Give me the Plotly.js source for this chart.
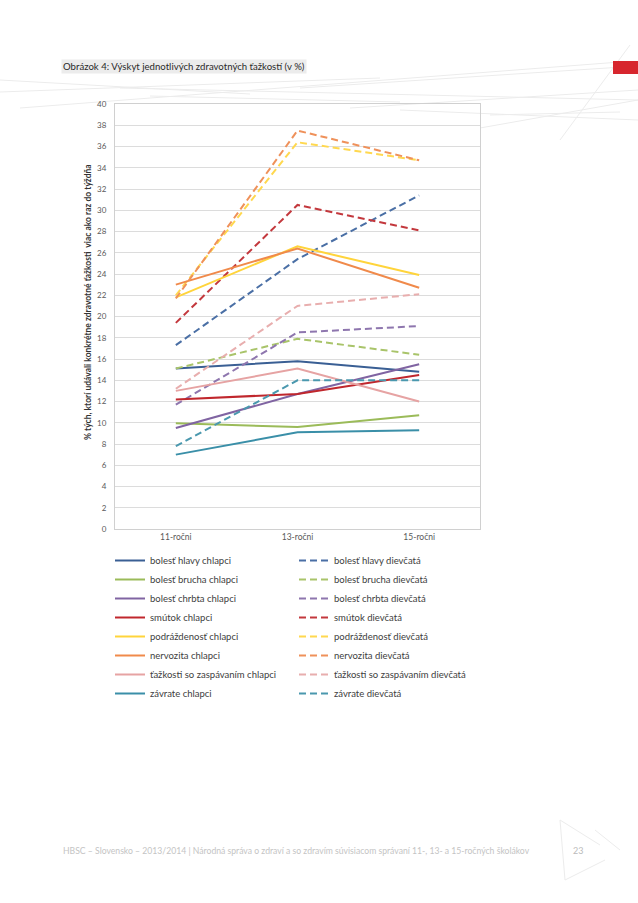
<!DOCTYPE html>
<html>
<head>
<meta charset="utf-8">
<script src="https://cdn.plot.ly/plotly-3.0.1.min.js"></script>
<style>html,body{margin:0;padding:0;background:#fff;}#chart{width:638px;height:903px;}</style>
</head>
<body>
<div id="chart"></div>
<script>
// ---- data ----
var ages = ['11-ročni', '13-ročni', '15-ročni'];
var yTicks = [0, 2, 4, 6, 8, 10, 12, 14, 16, 18, 20, 22, 24, 26, 28, 30, 32, 34, 36, 38, 40];

var problems = ['bolesť hlavy', 'bolesť brucha', 'bolesť chrbta', 'smútok', 'podráždenosť', 'nervozita', 'ťažkosti so zaspávaním', 'závrate'];

var hlavaChlapci = [15.1, 15.8, 14.8];
var bruchoChlapci = [9.95, 9.6, 10.7];
var chrbatChlapci = [9.5, 12.7, 15.5];
var smutokChlapci = [12.2, 12.7, 14.5];
var podrazdenostChlapci = [21.8, 26.6, 23.9];
var nervozitaChlapci = [23.0, 26.4, 22.7];
var zaspavanieChlapci = [13.0, 15.1, 12.0];
var zavrateChlapci = [7.0, 9.1, 9.3];

var hlavaDievcata = [17.3, 25.4, 31.4];
var bruchoDievcata = [15.1, 17.9, 16.4];
var chrbatDievcata = [11.7, 18.5, 19.1];
var smutokDievcata = [19.4, 30.5, 28.1];
var podrazdenostDievcata = [22.0, 36.4, 34.7];
var nervozitaDievcata = [21.7, 37.5, 34.7];
var zaspavanieDievcata = [13.2, 21.0, 22.1];
var zavrateDievcata = [7.8, 14.0, 14.0];

var boys = [hlavaChlapci, bruchoChlapci, chrbatChlapci, smutokChlapci, podrazdenostChlapci, nervozitaChlapci, zaspavanieChlapci, zavrateChlapci];
var girls = [hlavaDievcata, bruchoDievcata, chrbatDievcata, smutokDievcata, podrazdenostDievcata, nervozitaDievcata, zaspavanieDievcata, zavrateDievcata];

// ---- styles ----
var colors = ['#3A5F94', '#9BBB59', '#8064A2', '#C0272D', '#FFD43B', '#F08A4B', '#E6A3A3', '#3A8FA8'];
var girlColors = ['#4A6FA5', '#A9C46A', '#8E76AE', '#C3383D', '#FFD84F', '#EF915A', '#E8AEAE', '#4A98AE'];

var FONT = 'Lato, "Open Sans", sans-serif';
var traces = [];
for (var i = 0; i < problems.length; i++) {
  traces.push({
    x: ages, y: boys[i], type: 'scatter', mode: 'lines',
    name: problems[i] + ' chlapci',
    line: {color: colors[i], width: 2}
  });
  traces.push({
    x: ages, y: girls[i], type: 'scatter', mode: 'lines',
    name: problems[i] + ' dievčatá',
    line: {color: girlColors[i], width: 2, dash: '7px,4px'}
  });
}

// plot area in page pixels
var L = 115, R = 480, T = 104, B = 529, W = 638, H = 903;
function px(x) { return (x - L) / (R - L); }
function py(y) { return (B - y) / (B - T); }
function deco(x0, y0, x1, y1, c) {
  return {type: 'line', xref: 'paper', yref: 'paper', x0: px(x0), y0: py(y0), x1: px(x1), y1: py(y1),
          line: {color: c || '#ececec', width: 1}, layer: 'below'};
}

var shapes = [
  deco(0, 92, 380, 78), deco(20, 108, 620, 62), deco(150, 96, 400, 102), deco(300, 88, 638, 66),
  deco(350, 108, 638, 90), deco(120, 88, 638, 100), deco(400, 110, 638, 120), deco(480, 128, 638, 100),
  deco(560, 140, 630, 45), deco(490, 115, 620, 112), deco(0, 80, 250, 94),
  deco(560, 820, 600, 845), deco(560, 820, 565, 880), deco(565, 880, 605, 860), deco(595, 830, 620, 850),
  {type: 'rect', xref: 'paper', yref: 'paper', x0: px(613), x1: px(640), y0: py(61), y1: py(74),
   fillcolor: '#D7262E', line: {width: 0}}
];

var annotations = [
  {text: 'Obrázok 4: Výskyt jednotlivých zdravotných ťažkostí (v %)', xref: 'paper', yref: 'paper',
   x: px(61), y: py(67), xanchor: 'left', yanchor: 'middle', showarrow: false,
   font: {family: FONT, size: 9.6, color: '#2a2a2a'}, bgcolor: '#ececec', borderpad: 1},
  {text: '<b>% tých, ktorí udávali konkrétne zdravotné ťažkosti  viac ako raz do týždňa</b>', xref: 'paper', yref: 'paper',
   x: px(88), y: py(302), xanchor: 'center', yanchor: 'middle', textangle: -90, showarrow: false,
   font: {family: FONT, size: 8.5, color: '#333'}},
  {text: 'HBSC – Slovensko – 2013/2014 | Národná správa o zdraví a so zdravím súvisiacom správaní 11-, 13- a 15-ročných školákov',
   xref: 'paper', yref: 'paper', x: px(61), y: py(850), xanchor: 'left', yanchor: 'middle', showarrow: false,
   font: {family: FONT, size: 8.65, color: '#c4c4c4'}},
  {text: '23', xref: 'paper', yref: 'paper', x: px(578), y: py(850), xanchor: 'center', yanchor: 'middle', showarrow: false,
   font: {family: FONT, size: 9, color: '#bbbbbb'}}
];

var layout = {
  width: W, height: H,
  margin: {l: L, r: W - R, t: T, b: H - B},
  paper_bgcolor: '#fff', plot_bgcolor: '#fff',
  font: {family: FONT, size: 8, color: '#595959'},
  showlegend: true,
  legend: {
    orientation: 'h', x: px(110), y: py(546), xanchor: 'left', yanchor: 'top',
    entrywidth: 139, entrywidthmode: 'pixels', traceorder: 'normal',
    font: {family: FONT, size: 9.5, color: '#404040'}, bgcolor: 'rgba(0,0,0,0)'
  },
  xaxis: {
    type: 'category', categoryorder: 'array', categoryarray: ages, range: [-0.5, 2.5],
    showgrid: false, showline: true, linecolor: '#d0d0d0', linewidth: 1, mirror: true,
    ticks: '', tickfont: {family: FONT, size: 8.5, color: '#595959'}, fixedrange: true, zeroline: false
  },
  yaxis: {
    range: [0, 40], tickvals: yTicks, ticktext: yTicks.map(String),
    showgrid: true, gridcolor: '#dcdcdc', gridwidth: 1, zeroline: false,
    showline: true, linecolor: '#d0d0d0', linewidth: 1, mirror: true,
    ticks: '', ticklabelstandoff: 6, tickfont: {family: FONT, size: 8, color: '#595959'}, fixedrange: true
  },
  shapes: shapes,
  annotations: annotations
};

Plotly.newPlot('chart', traces, layout, {displayModeBar: false, staticPlot: true});
</script>
</body>
</html>
